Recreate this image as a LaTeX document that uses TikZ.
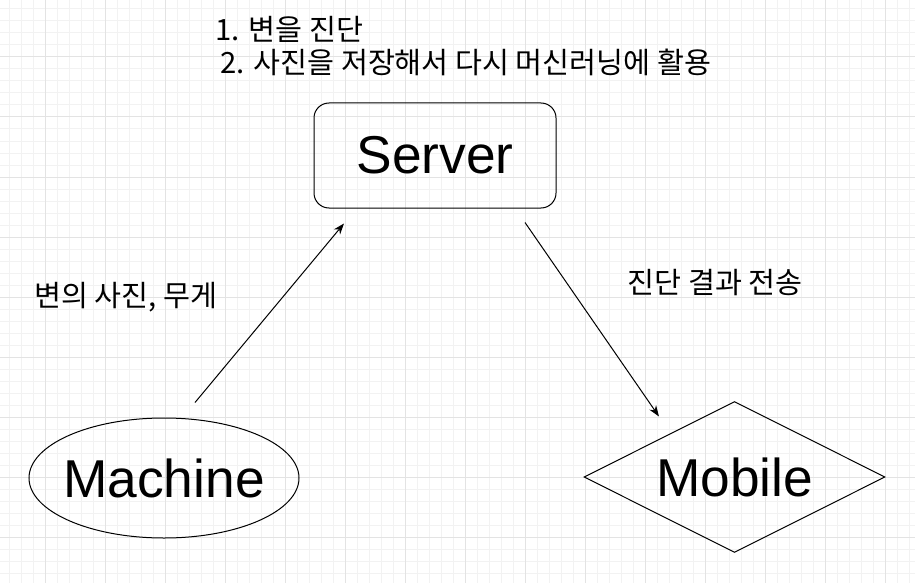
\documentclass[tikz,border=0pt]{standalone}
\usepackage{fontspec}
\setmainfont{Liberation Sans}
\newfontfamily\cjk{Noto Sans CJK KR}
\usetikzlibrary{arrows.meta,positioning,shapes.geometric}

\begin{document}
\begin{tikzpicture}[x=1pt,y=-1pt,line width=1pt,on grid,
  minorline/.style={draw=black!5,line width=1pt},
  majorline/.style={draw=black!11,line width=1pt},
  shape label/.style={font=\fontsize{53.3}{64}\selectfont},
  box/.style={draw,rounded corners=15pt,minimum width=242pt,minimum height=105pt,shape label},
  oval/.style={draw,ellipse,minimum width=270pt,minimum height=120pt,inner xsep=-6pt,inner ysep=0pt,shape label},
  rhombus/.style={draw,diamond,aspect=2,minimum width=301pt,minimum height=151pt,inner sep=0pt,shape label},
  note/.style={inner sep=0pt,font=\cjk\fontsize{29.3}{33}\selectfont}]
  \useasboundingbox (0,0) rectangle (915,583);
  \fill[white] (0,0) rectangle (915,583);
  % background grid
  \foreach \x in {9,21,...,909} \draw[minorline] (\x,0) -- (\x,583);
  \foreach \y in {9,21,...,573} \draw[minorline] (0,\y) -- (915,\y);
  \foreach \x in {45,105,...,885} \draw[majorline] (\x,0) -- (\x,583);
  \foreach \y in {57,117,...,537} \draw[majorline] (0,\y) -- (915,\y);

  \node[box] (server) at (435,155.5) {Server};
  \node[oval] (machine) [below left=322.5pt and 271pt of server] {Machine};
  \node[rhombus] (mobile) [below right=321.5pt and 299.5pt of server] {Mobile};
  \node[note,anchor=west] (step one) at (215,29.5) {1. 변을 진단};
  \node[note,anchor=west] (step two) at (220,62.5) {2. 사진을 저장해서 다시 머신러닝에 활용};
  \path[-{Stealth[length=11pt,width=8pt]}]
  ([xshift=31pt,yshift=15pt]machine.north) edge node[note,pos=0.589,left=65pt] {변의 사진, 무게} ([xshift=-91pt,yshift=-15pt]server.south)
  ([xshift=90pt,yshift=-14pt]server.south) edge node[note,pos=0.308,right=61pt] {진단 결과 전송} ([xshift=-75.5pt,yshift=-15.5pt]mobile.north);
\end{tikzpicture}
\end{document}
